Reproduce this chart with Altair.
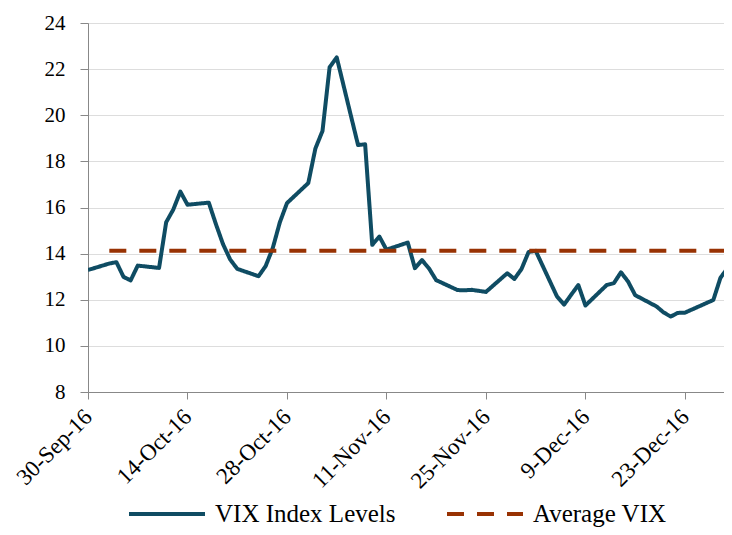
import altair as alt
import pandas as pd

# Trading days and VIX closes
dates = [
    "2016-09-30",
    "2016-10-03", "2016-10-04", "2016-10-05", "2016-10-06", "2016-10-07",
    "2016-10-10", "2016-10-11", "2016-10-12", "2016-10-13", "2016-10-14",
    "2016-10-17", "2016-10-18", "2016-10-19", "2016-10-20", "2016-10-21",
    "2016-10-24", "2016-10-25", "2016-10-26", "2016-10-27", "2016-10-28",
    "2016-10-31", "2016-11-01", "2016-11-02", "2016-11-03", "2016-11-04",
    "2016-11-07", "2016-11-08", "2016-11-09", "2016-11-10", "2016-11-11",
    "2016-11-14", "2016-11-15", "2016-11-16", "2016-11-17", "2016-11-18",
    "2016-11-21", "2016-11-22", "2016-11-23", "2016-11-25",
    "2016-11-28", "2016-11-29", "2016-11-30", "2016-12-01", "2016-12-02",
    "2016-12-05", "2016-12-06", "2016-12-07", "2016-12-08", "2016-12-09",
    "2016-12-12", "2016-12-13", "2016-12-14", "2016-12-15", "2016-12-16",
    "2016-12-19", "2016-12-20", "2016-12-21", "2016-12-22", "2016-12-23",
    "2016-12-27", "2016-12-28", "2016-12-29", "2016-12-30",
]
vix = [
    13.29,
    13.57, 13.63, 12.99, 12.84, 13.48,
    13.38, 15.36, 15.91, 16.69, 16.12,
    16.21, 15.28, 14.41, 13.75, 13.34,
    13.02, 13.46, 14.24, 15.36, 16.19,
    17.06, 18.56, 19.32, 22.08, 22.51,
    18.71, 18.74, 14.38, 14.74, 14.17,
    14.48, 13.37, 13.72, 13.35, 12.85,
    12.42, 12.41, 12.43, 12.34,
    13.15, 12.90, 13.33, 14.07, 14.12,
    12.14, 11.79, 12.22, 12.64, 11.75,
    12.64, 12.72, 13.19, 12.79, 12.20,
    11.71, 11.45, 11.27, 11.43, 11.44,
    11.99, 12.95, 13.37, 14.04,
]
avg_dates = dates[1:]
avg_vix = 14.13

series_names = ["VIX Index Levels", "Average VIX"]
series_colors = ["#0f4c63", "#983203"]
series_dashes = [[1, 0], [17, 13]]

x_tick_dates = ["2016-09-30", "2016-10-14", "2016-10-28", "2016-11-11",
                "2016-11-25", "2016-12-09", "2016-12-23"]
y_ticks = [8, 10, 12, 14, 16, 18, 20, 22, 24]

df_vix = pd.DataFrame({"date": dates, "value": vix, "series": series_names[0]})
df_avg = pd.DataFrame({"date": avg_dates, "value": [avg_vix] * len(avg_dates),
                       "series": series_names[1]})

FONT = "'Liberation Serif', 'Times New Roman', 'DejaVu Serif', serif"


def dt(s, hours=0):
    y, m, d = (int(p) for p in s.split("-"))
    return alt.DateTime(year=y, month=m, date=d, hours=hours, utc=True)


legend = alt.Legend(
    title=None, orient="none", legendX=39, legendY=451, direction="horizontal",
    labelFont=FONT, labelFontSize=25, labelColor="#000000", symbolType="stroke",
    symbolSize=5776, symbolStrokeWidth=4, columnPadding=43, labelOffset=8,
    labelLimit=400,
)

x_enc = alt.X(
    "date:T",
    scale=alt.Scale(type="utc", domain=[dt("2016-09-30"), dt("2016-12-28", 12)], nice=False),
    axis=alt.Axis(
        values=[dt(s) for s in x_tick_dates],
        labelExpr="utcFormat(datum.value, '%-d-%b-%y')",
        title=None, grid=False, labelAngle=-45, labelAlign="right",
        labelBaseline="middle", labelPadding=14, tickSize=7,
        labelFontSize=23, labelOverlap=False, labelFont=FONT,
    ),
)
y_enc = alt.Y(
    "value:Q",
    scale=alt.Scale(domain=[8, 24], nice=False, zero=False),
    axis=alt.Axis(values=y_ticks, title=None, grid=True, tickSize=8,
                  labelPadding=15, labelFontSize=21, labelFont=FONT),
)
color_enc = alt.Color("series:N", scale=alt.Scale(domain=series_names, range=series_colors),
                      legend=legend)
dash_enc = alt.StrokeDash("series:N", scale=alt.Scale(domain=series_names, range=series_dashes),
                          legend=legend)

line_vix = alt.Chart(df_vix).mark_line(strokeWidth=4, strokeJoin="round", clip=True).encode(
    x=x_enc, y=y_enc, color=color_enc, strokeDash=dash_enc
)
line_avg = alt.Chart(df_avg).mark_line(strokeWidth=4, clip=True).encode(
    x=x_enc, y=y_enc, color=color_enc, strokeDash=dash_enc
)

chart = alt.layer(line_vix, line_avg).properties(
    width=636, height=369,
    autosize=alt.AutoSizeParams(type="none"),
    padding={"left": 80, "top": 15, "right": 0, "bottom": 135},
).configure_view(stroke=None).configure_axis(
    labelFont=FONT, labelColor="#000000",
    domainColor="#868686", domainWidth=2.5,
    tickColor="#868686", tickWidth=2,
    gridColor="#8a8a8a", gridWidth=1.5,
).configure(font=FONT)

chart.save("out.html", embed_options={"renderer": "svg", "actions": False})
